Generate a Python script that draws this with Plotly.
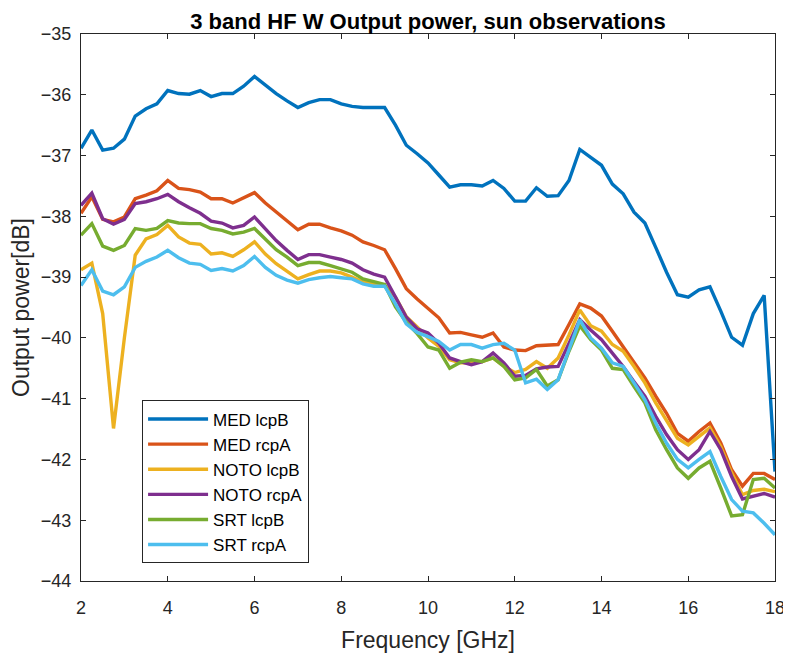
import plotly.graph_objects as go

# frequency grid [GHz]
freq = [2.0, 2.25, 2.5, 2.75, 3.0, 3.25, 3.5, 3.75, 4.0, 4.25, 4.5, 4.75,
        5.0, 5.25, 5.5, 5.75, 6.0, 6.25, 6.5, 6.75, 7.0, 7.25, 7.5, 7.75,
        8.0, 8.25, 8.5, 8.75, 9.0, 9.25, 9.5, 9.75, 10.0, 10.25, 10.5, 10.75,
        11.0, 11.25, 11.5, 11.75, 12.0, 12.25, 12.5, 12.75, 13.0, 13.25, 13.5, 13.75,
        14.0, 14.25, 14.5, 14.75, 15.0, 15.25, 15.5, 15.75, 16.0, 16.25, 16.5, 16.75,
        17.0, 17.25, 17.5, 17.75, 18.0]

med_lcpB = [-36.88, -36.58, -36.91, -36.88, -36.73, -36.35, -36.23, -36.15,
            -35.93, -35.98, -35.99, -35.93, -36.03, -35.98, -35.98, -35.86,
            -35.70, -35.84, -35.98, -36.10, -36.21, -36.13, -36.08, -36.08,
            -36.15, -36.19, -36.21, -36.21, -36.21, -36.50, -36.83, -36.97,
            -37.12, -37.32, -37.52, -37.48, -37.48, -37.50, -37.41, -37.54,
            -37.75, -37.75, -37.53, -37.67, -37.66, -37.41, -36.90, -37.03,
            -37.16, -37.47, -37.63, -37.93, -38.11, -38.51, -38.92, -39.29,
            -39.33, -39.21, -39.16, -39.56, -39.99, -40.12, -39.60, -39.30,
            -42.20]
med_rcpA = [-37.95, -37.68, -38.05, -38.09, -38.01, -37.71, -37.65, -37.58,
            -37.41, -37.54, -37.56, -37.60, -37.71, -37.71, -37.78, -37.70,
            -37.61, -37.78, -37.93, -38.07, -38.22, -38.13, -38.13, -38.19,
            -38.24, -38.31, -38.42, -38.48, -38.55, -38.86, -39.19, -39.36,
            -39.52, -39.67, -39.92, -39.91, -39.95, -39.99, -39.92, -40.15,
            -40.20, -40.21, -40.13, -40.12, -40.11, -39.78, -39.44, -39.51,
            -39.64, -39.89, -40.14, -40.39, -40.66, -40.96, -41.24, -41.57,
            -41.70, -41.54, -41.40, -41.73, -42.17, -42.44, -42.23, -42.23,
            -42.33]
noto_lcpB = [-38.88, -38.77, -39.60, -41.49, -40.00, -38.64, -38.37, -38.30,
             -38.15, -38.34, -38.44, -38.46, -38.62, -38.60, -38.66, -38.55,
             -38.42, -38.62, -38.78, -38.90, -39.03, -38.96, -38.90, -38.90,
             -38.93, -39.00, -39.08, -39.11, -39.14, -39.33, -39.65, -39.82,
             -40.00, -40.14, -40.36, -40.41, -40.41, -40.39, -40.33, -40.47,
             -40.57, -40.52, -40.39, -40.50, -40.33, -39.95, -39.54, -39.80,
             -39.89, -40.11, -40.22, -40.47, -40.74, -41.07, -41.35, -41.65,
             -41.76, -41.62, -41.48, -41.79, -42.22, -42.58, -42.51, -42.49,
             -42.53]
noto_rcpA = [-37.82, -37.62, -38.04, -38.13, -38.05, -37.79, -37.76, -37.71,
             -37.64, -37.76, -37.86, -37.95, -38.08, -38.11, -38.19, -38.15,
             -38.01, -38.20, -38.40, -38.56, -38.71, -38.63, -38.63, -38.67,
             -38.71, -38.77, -38.88, -38.95, -39.00, -39.33, -39.66, -39.85,
             -39.92, -40.09, -40.33, -40.39, -40.44, -40.39, -40.25, -40.41,
             -40.63, -40.62, -40.51, -40.48, -40.47, -40.09, -39.70, -39.87,
             -40.03, -40.25, -40.47, -40.72, -40.96, -41.29, -41.59, -41.84,
             -42.00, -41.84, -41.54, -41.84, -42.28, -42.65, -42.61, -42.56,
             -42.62]
srt_lcpB = [-38.31, -38.12, -38.49, -38.56, -38.48, -38.20, -38.23, -38.20,
            -38.07, -38.11, -38.12, -38.12, -38.20, -38.23, -38.29, -38.26,
            -38.20, -38.37, -38.55, -38.67, -38.81, -38.76, -38.76, -38.81,
            -38.86, -38.92, -39.03, -39.08, -39.12, -39.49, -39.74, -39.93,
            -40.15, -40.20, -40.50, -40.40, -40.36, -40.39, -40.33, -40.47,
            -40.69, -40.66, -40.52, -40.79, -40.69, -40.22, -39.80, -40.03,
            -40.20, -40.50, -40.52, -40.80, -41.07, -41.51, -41.84, -42.14,
            -42.31, -42.14, -42.03, -42.47, -42.93, -42.91, -42.33, -42.31,
            -42.47]
srt_rcpA = [-39.14, -38.88, -39.23, -39.29, -39.16, -38.84, -38.74, -38.67,
            -38.56, -38.68, -38.77, -38.79, -38.89, -38.86, -38.90, -38.81,
            -38.66, -38.84, -38.97, -39.05, -39.10, -39.04, -39.01, -38.99,
            -39.01, -39.03, -39.11, -39.15, -39.15, -39.44, -39.77, -39.91,
            -39.98, -40.06, -40.20, -40.11, -40.11, -40.17, -40.11, -40.09,
            -40.20, -40.74, -40.68, -40.85, -40.69, -40.20, -39.70, -40.00,
            -40.17, -40.41, -40.47, -40.74, -41.02, -41.40, -41.73, -42.00,
            -42.14, -42.00, -41.87, -42.28, -42.66, -42.85, -42.88, -43.05,
            -43.24]

names = ["MED lcpB", "MED rcpA", "NOTO lcpB", "NOTO rcpA", "SRT lcpB", "SRT rcpA"]
series = [med_lcpB, med_rcpA, noto_lcpB, noto_rcpA, srt_lcpB, srt_rcpA]
# matlab default colour order
colors = ["#0072BD", "#D95319", "#EDB120", "#7E2F8E", "#77AC30", "#4DBEEE"]

FONT = "Liberation Sans, Arial, sans-serif"

fig = go.Figure()
for name, vals, col in zip(names, series, colors):
    fig.add_trace(go.Scatter(x=freq, y=vals, mode="lines", name=name,
                             line=dict(color=col, width=3.4)))

axis_common = dict(showgrid=False, zeroline=False, showline=True, linecolor="#262626",
                   linewidth=1, mirror="ticks", ticks="inside", ticklen=5,
                   tickcolor="#262626", automargin=False,
                   tickfont=dict(family=FONT, size=18, color="#262626"))

# the page body has an 8px margin, so the margins are shifted by that
fig.update_layout(
    width=791, height=657,
    margin=dict(l=73, r=24, t=26, b=84),
    paper_bgcolor="white", plot_bgcolor="white",
    title=dict(text="<b>3 band HF W Output power, sun observations</b>",
               font=dict(family=FONT, size=22, color="black"),
               xref="paper", x=0.5, xanchor="center",
               yref="container", y=0.98, yanchor="middle"),
    xaxis=dict(range=[2, 18], tickvals=[2, 4, 6, 8, 10, 12, 14, 16, 18],
               ticklabelstandoff=10,
               title=dict(text="Frequency [GHz]", standoff=15,
                          font=dict(family=FONT, size=23, color="#262626")),
               **axis_common),
    yaxis=dict(range=[-44, -35], dtick=1, ticklabelstandoff=5,
               title=dict(text="Output power[dB]", standoff=4,
                          font=dict(family=FONT, size=23, color="#262626")),
               **axis_common),
    legend=dict(x=0.088, y=0.032, xanchor="left", yanchor="bottom",
                bgcolor="white", bordercolor="#262626", borderwidth=1,
                font=dict(family=FONT, size=17, color="black"),
                itemwidth=60, tracegroupgap=0),
    showlegend=True,
)

fig.write_html("out.html")
